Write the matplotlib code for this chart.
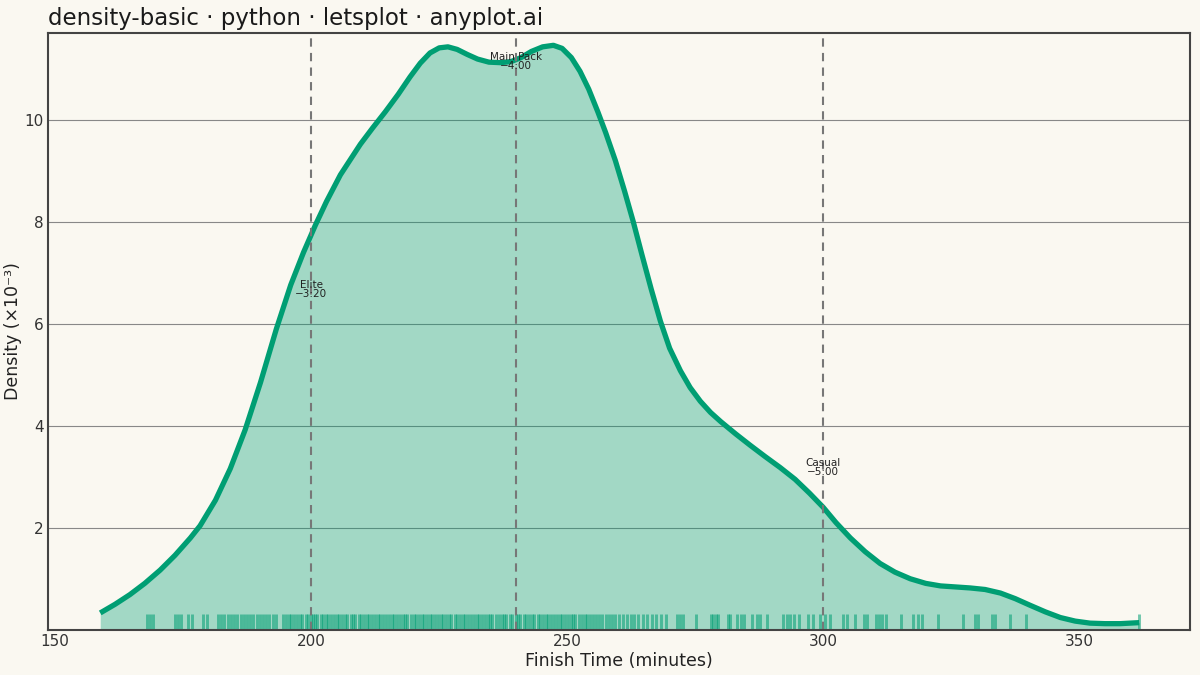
import matplotlib.pyplot as plt

# Courbe de densité (minutes, densité x10^-3)
finish_min = [158.8, 161.7, 164.6, 167.5, 170.5, 173.4, 176.4, 178.3, 181.3, 184.2,
              187.1, 190.1, 193.2, 196.0, 198.5, 200.8, 203.0, 205.7, 209.6, 212.0,
              214.5, 217.0, 219.3, 221.3, 223.2, 225.0, 226.7, 228.5, 230.5, 232.5,
              234.7, 236.9, 239.0, 241.0, 243.0, 245.2, 247.3, 249.0, 250.8, 252.5,
              254.2, 256.0, 257.5, 259.4, 261.2, 262.9, 264.6, 266.4, 268.2, 270.0,
              272.1, 274.0, 276.0, 278.0, 280.0, 282.9, 285.7, 288.6, 291.6, 294.5,
              297.3, 300.0, 302.5, 305.3, 308.2, 311.1, 314.0, 317.0, 320.0, 322.9,
              325.8, 328.7, 331.6, 334.6, 337.5, 340.4, 343.4, 346.3, 349.2, 352.1,
              355.0, 358.0, 361.7]
density = [0.33, 0.50, 0.69, 0.91, 1.17, 1.46, 1.80, 2.04, 2.54, 3.16,
           3.92, 4.85, 5.90, 6.76, 7.40, 7.93, 8.40, 8.92, 9.52, 9.84,
           10.16, 10.50, 10.84, 11.11, 11.31, 11.41, 11.43, 11.38, 11.28, 11.19,
           11.13, 11.12, 11.14, 11.22, 11.34, 11.43, 11.46, 11.40, 11.22, 10.95,
           10.60, 10.15, 9.75, 9.20, 8.60, 8.00, 7.35, 6.68, 6.05, 5.52,
           5.08, 4.75, 4.48, 4.26, 4.08, 3.84, 3.62, 3.40, 3.18, 2.95,
           2.68, 2.40, 2.10, 1.80, 1.53, 1.30, 1.13, 1.00, 0.91, 0.86,
           0.84, 0.82, 0.79, 0.72, 0.61, 0.48, 0.35, 0.24, 0.17, 0.13,
           0.12, 0.12, 0.14]

# Temps individuels (rug)
rug_times = [168.0, 168.6, 169.2, 173.4, 174.0, 174.5, 175.9, 176.8, 178.9, 179.7,
             181.8, 182.4, 182.9, 183.7, 184.4, 185.0, 185.6, 186.3, 186.8, 187.5,
             188.1, 188.7, 189.4, 190.0, 190.6, 191.2, 191.8, 192.5, 193.2, 194.5,
             195.0, 195.6, 196.1, 196.7, 197.2,
             197.8, 198.3, 198.9, 199.4, 199.9, 200.3, 200.8, 201.2, 201.9, 202.4,
             202.8, 203.3, 203.9, 204.5, 205.0, 205.4, 206.1, 206.6, 207.0, 207.7,
             208.2, 208.6, 209.3, 209.8, 210.4, 210.9, 211.3, 211.8, 212.5, 213.0,
             213.4, 214.1, 214.6, 215.2, 215.7, 216.1, 216.8, 217.3, 217.9, 218.4,
             218.8, 219.5, 220.0, 220.4, 221.1, 221.6, 222.0, 222.7, 223.2, 223.6,
             224.2, 224.8, 225.3, 225.7, 226.4, 226.9, 227.3, 228.0, 228.5, 229.1,
             229.6, 230.0, 230.7, 231.2, 231.8, 232.3, 232.7, 233.4, 233.9, 234.5,
             235.0, 235.4, 236.1, 236.6, 237.2, 237.7, 238.1, 238.8, 239.3, 239.9,
             240.4, 240.8, 241.5, 242.0, 242.6, 243.1, 243.5, 244.2, 244.7, 245.3,
             245.8, 246.2, 246.9, 247.4, 248.0, 248.5, 248.9, 249.6, 250.1, 250.7,
             251.2, 251.6, 252.3, 252.8, 253.4, 253.9, 254.5, 255.0, 255.6, 256.2,
             256.8, 257.5, 258.1, 258.8, 259.4, 260.1, 260.9, 261.6, 262.4, 263.1,
             263.9, 264.8, 265.6, 266.5, 267.4, 268.3, 269.2,
             271.5, 272.1, 272.7, 275.2, 278.0, 278.5, 279.0, 279.5, 281.3, 281.8,
             283.2, 283.9, 284.5, 286.0, 287.1, 287.7, 289.0, 292.2, 292.9, 293.6,
             294.3, 295.3, 297.0, 297.9, 299.4, 300.3, 301.4, 303.9, 304.7, 306.2,
             308.0, 308.6, 310.3, 310.9, 311.5, 312.2, 315.2, 317.6, 318.6, 319.3,
             322.5, 327.3, 329.7, 330.3, 333.0, 333.6, 336.5, 339.5, 361.7]

# Repères de groupes
ref_times = [200, 240, 300]
ref_labels = ["Elite\n\u22123:20", "Main Pack\n\u22124:00", "Casual\n\u22125:00"]
ref_label_y = [6.67, 11.15, 3.18]

GREEN = "#009E73"
BG = "#FAF8F1"

fig = plt.figure(figsize=(12, 6.75), dpi=100, facecolor=BG)
ax = fig.add_axes([0.04, 0.067, 0.952, 0.884])
ax.set_facecolor(BG)

ax.fill_between(finish_min, density, 0, color=GREEN, alpha=0.35, linewidth=0)
ax.plot(finish_min, density, color=GREEN, linewidth=3.8,
        solid_joinstyle="round", solid_capstyle="butt")

# Rug
ax.vlines(rug_times, 0, 0.3, color=GREEN, alpha=0.55, linewidth=2.1)

for t, lab, ly in zip(ref_times, ref_labels, ref_label_y):
    ax.axvline(t, color="#777777", linestyle=(0, (4, 3)), linewidth=1.5)
    ax.text(t, ly, lab, ha="center", va="center", fontsize=7.5, color="#222222",
            linespacing=0.9)

ax.set_xlim(148.6, 371.7)
ax.set_ylim(0, 11.7)
ax.set_xticks([150, 200, 250, 300, 350])
ax.set_yticks([2, 4, 6, 8, 10])
ax.grid(axis="y", color="#888888", linewidth=0.8)
ax.set_axisbelow(True)
ax.tick_params(length=0, labelsize=11, labelcolor="#333333", pad=3)

for s in ax.spines.values():
    s.set_color("#444444")
    s.set_linewidth(1.5)

ax.set_xlabel("Finish Time (minutes)", fontsize=12.5, color="#222222", labelpad=2)
ax.set_ylabel("Density (\u00d710\u207b\u00b3)", fontsize=12.5, color="#222222", labelpad=2)
ax.set_title("density-basic \u00b7 python \u00b7 letsplot \u00b7 anyplot.ai", loc="left",
             fontsize=16.5, color="#1a1a1a", pad=6)

plt.savefig("out.png", dpi=100, facecolor=BG)
